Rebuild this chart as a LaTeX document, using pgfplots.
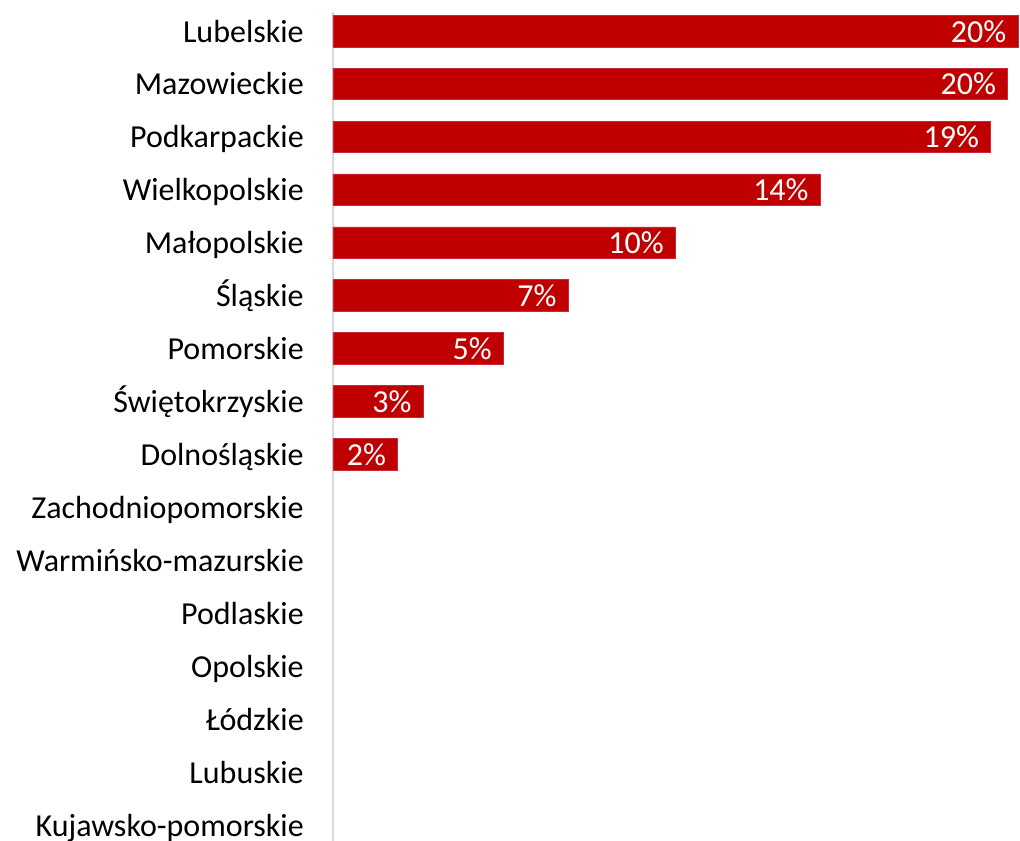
\documentclass[border=0pt]{standalone}
\usepackage{pgfplots}
\pgfplotsset{compat=1.18}
\usepackage{pgfplotstable}
\usepackage{fontspec}
\setmainfont{Carlito}
\definecolor{barred}{HTML}{C00000}
\definecolor{baredge}{HTML}{C8283C}
\definecolor{axgray}{HTML}{D9D9D9}
\pgfplotstableread{
i v lab
0 20.1 20
1 19.8 20
2 19.3 19
3 14.3 14
4 10.05 10
5 6.9 7
6 5.0 5
7 2.65 3
8 1.9 2
}\datatab
\begin{document}
\begin{tikzpicture}
\begin{axis}[
  name=ax,
  scale only axis,
  width=515.25pt, height=621.75pt,
  xbar, bar width=0.6,
  xmin=0, xmax=20.16,
  ymin=-0.36, ymax=15.30,
  y dir=reverse,
  hide x axis,
  axis y line*=left,
  y axis line style={-, draw=axgray, line width=1.3pt},
  ytick={0,...,15},
  yticklabels={Lubelskie,Mazowieckie,Podkarpackie,Wielkopolskie,Małopolskie,Śląskie,Pomorskie,Świętokrzyskie,Dolnośląskie,Zachodniopomorskie,Warmińsko-mazurskie,Podlaskie,Opolskie,Łódzkie,Lubuskie,Kujawsko-pomorskie},
  ytick style={draw=none},
  yticklabel style={anchor=base east, inner sep=0pt, xshift=-17.5pt, yshift=-8.25pt, font=\fontsize{24}{28}\selectfont, text=black},
  clip=false,
  point meta=explicit symbolic,
  nodes near coords={\pgfplotspointmeta\%},
  every node near coord/.append style={anchor=base east, inner sep=0pt, xshift=-8.5pt, yshift=-8.25pt, text=white, font=\fontsize{24}{28}\selectfont},
]
\addplot[fill=barred, draw=baredge, line width=0.6pt] table[x=v, y=i, meta=lab] {\datatab};
\end{axis}
\pgfresetboundingbox
\path (ax.south west) ++(-249.75pt,0) rectangle ++(765pt,630.75pt);
\end{tikzpicture}
\end{document}
